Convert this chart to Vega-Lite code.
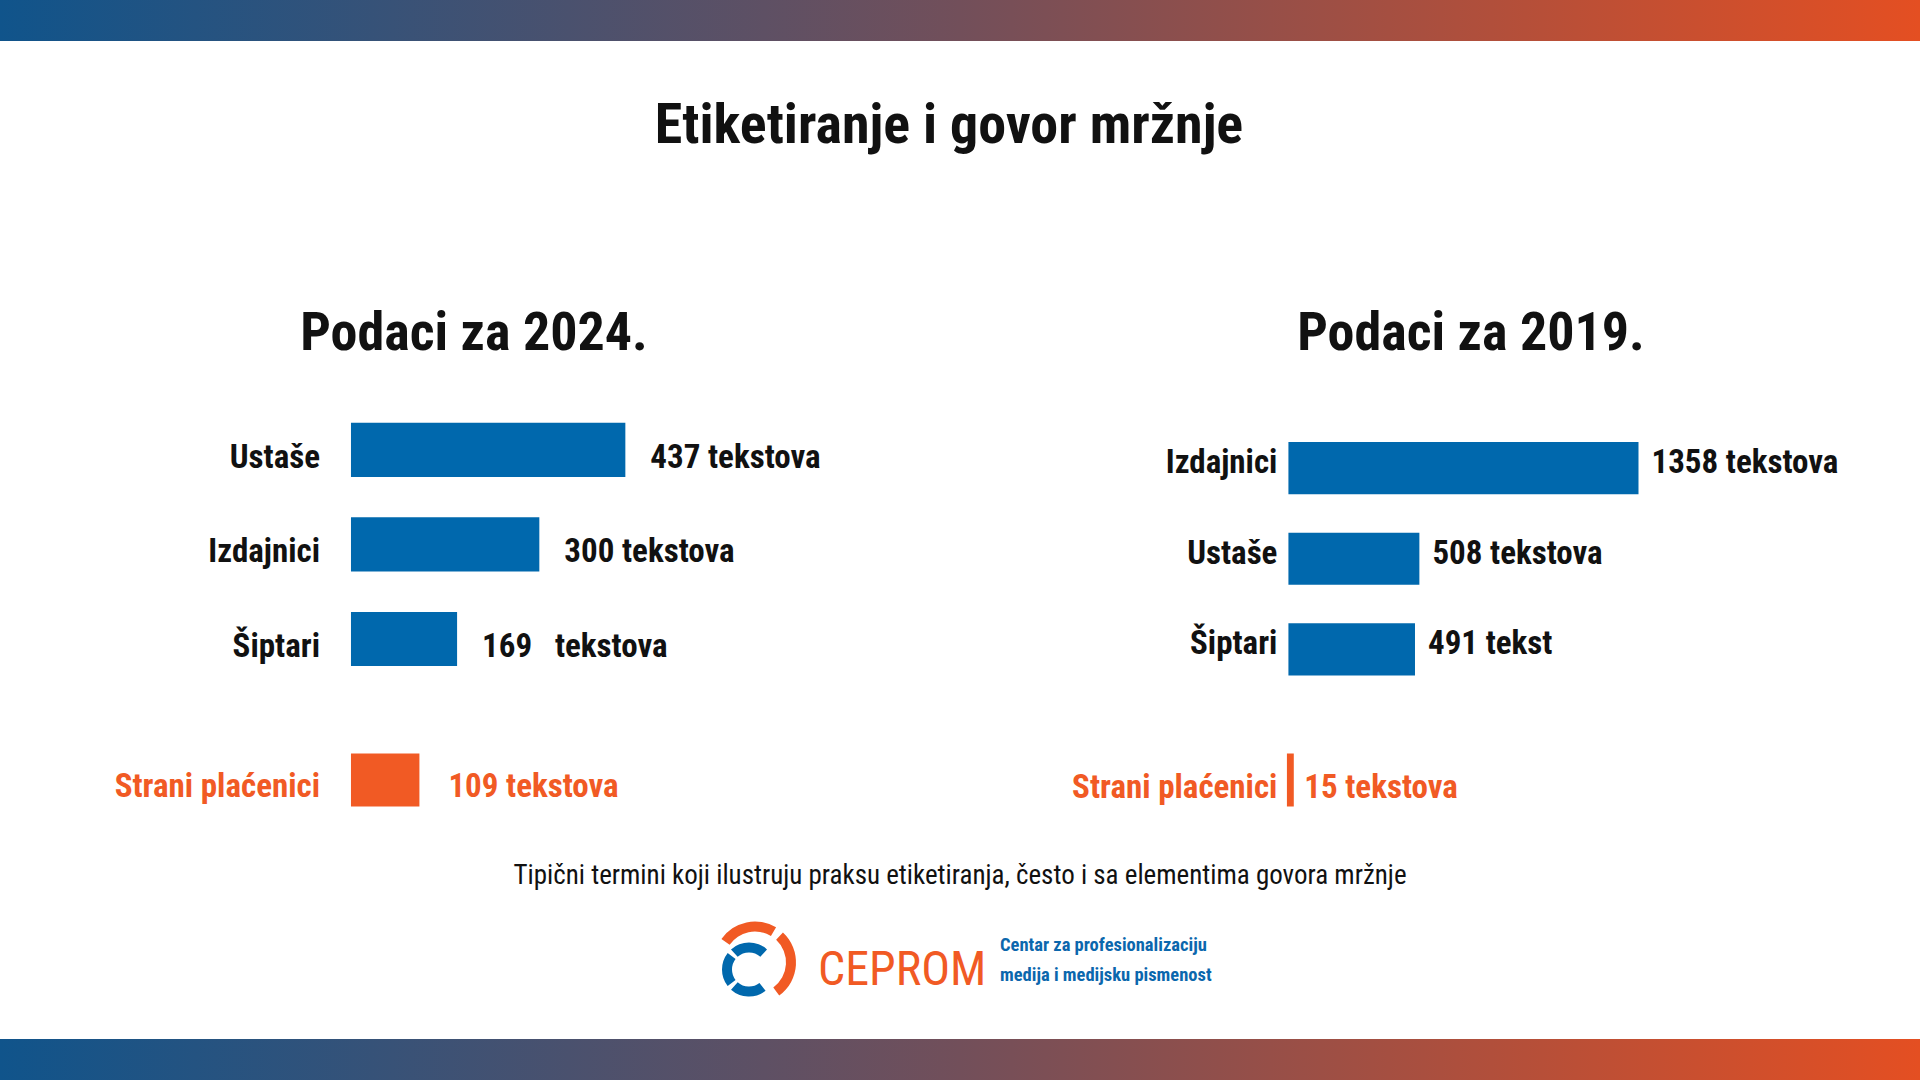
{
  "$schema": "https://vega.github.io/schema/vega-lite/v6.json",
  "padding": 0,
  "background": "white",
  "spacing": 0,
  "resolve": {"scale": {"x": "independent", "y": "independent"}},
  "config": {
    "view": {"stroke": null},
    "font": "Roboto Condensed, Liberation Sans Narrow, DejaVu Sans Condensed, sans-serif",
    "title": {"font": "Roboto Condensed, Liberation Sans Narrow, DejaVu Sans Condensed, sans-serif"}
  },
  "vconcat": [
    {
      "width": 1920,
      "height": 41,
      "data": {"values": [{"traka": "gore"}]},
      "mark": {
        "type": "rect",
        "fill": {"gradient": "linear", "x1": 0, "x2": 1, "y1": 0, "y2": 0,
          "stops": [{"offset": 0, "color": "#10548b"}, {"offset": 0.5, "color": "#724f5a"}, {"offset": 1, "color": "#e44f22"}]}
      },
      "encoding": {}
    },
    {
      "width": 1920,
      "height": 266,
      "data": {"values": [{"naslov": "Etiketiranje i govor mržnje"}]},
      "mark": {"type": "text", "fontSize": 56, "fontWeight": "bold", "color": "#111111", "baseline": "alphabetic", "align": "center", "dx": -11, "dy": -31},
      "encoding": {"text": {"field": "naslov", "type": "nominal"}}
    },
    {
      "hconcat": [
        {
          "width": 960,
          "height": 352,
          "title": {"text": "Podaci za 2024.", "fontSize": 54, "fontWeight": "bold", "color": "#111111", "anchor": "middle", "dx": -6, "offset": 39},
          "data": {"values": [
            {"kategorija": "Ustaše", "broj": 437, "oznaka": "437 tekstova"},
            {"kategorija": "Izdajnici", "broj": 300, "oznaka": "300 tekstova"},
            {"kategorija": "Šiptari", "broj": 169, "oznaka": "169\u00a0\u00a0\u00a0tekstova"}
          ]},
          "encoding": {
            "y": {"field": "kategorija", "type": "nominal", "sort": null, "axis": null,
              "scale": {"paddingInner": 0.4271, "paddingOuter": 0.574, "align": 0.209}}
          },
          "layer": [
            {
              "mark": {"type": "bar", "color": "#0068ad"},
              "encoding": {"x": {"field": "broj", "type": "quantitative", "axis": null, "scale": {"domain": [-559, 970], "nice": false, "zero": false}}}
            },
            {
              "mark": {"type": "text", "align": "right", "baseline": "alphabetic", "dx": -31, "dy": 18, "fontSize": 33, "fontWeight": "bold", "color": "#111111"},
              "encoding": {"x": {"datum": 0, "type": "quantitative"}, "text": {"field": "kategorija", "type": "nominal"}}
            },
            {
              "mark": {"type": "text", "align": "left", "baseline": "alphabetic", "dx": 25, "dy": 18, "fontSize": 33, "fontWeight": "bold", "color": "#111111"},
              "encoding": {"x": {"field": "broj", "type": "quantitative"}, "text": {"field": "oznaka", "type": "nominal"}}
            }
          ]
        },
        {
          "width": 960,
          "height": 352,
          "title": {"text": "Podaci za 2019.", "fontSize": 54, "fontWeight": "bold", "color": "#111111", "anchor": "middle", "dx": 31, "offset": 39},
          "data": {"values": [
            {"kategorija": "Izdajnici", "broj": 1358, "oznaka": "1358 tekstova"},
            {"kategorija": "Ustaše", "broj": 508, "oznaka": "508 tekstova"},
            {"kategorija": "Šiptari", "broj": 491, "oznaka": "491 tekst"}
          ]},
          "encoding": {
            "y": {"field": "kategorija", "type": "nominal", "sort": null, "axis": null,
              "scale": {"paddingInner": 0.4242, "paddingOuter": 0.6536, "align": 0.3544}}
          },
          "layer": [
            {
              "mark": {"type": "bar", "color": "#0068ad"},
              "encoding": {"x": {"field": "broj", "type": "quantitative", "axis": null, "scale": {"domain": [-1274, 2450], "nice": false, "zero": false}}}
            },
            {
              "mark": {"type": "text", "align": "right", "baseline": "alphabetic", "dx": -11, "dy": 5, "fontSize": 33, "fontWeight": "bold", "color": "#111111"},
              "encoding": {"x": {"datum": 0, "type": "quantitative"}, "text": {"field": "kategorija", "type": "nominal"}}
            },
            {
              "mark": {"type": "text", "align": "left", "baseline": "alphabetic", "dx": 13, "dy": 5, "fontSize": 33, "fontWeight": "bold", "color": "#111111"},
              "encoding": {"x": {"field": "broj", "type": "quantitative"}, "text": {"field": "oznaka", "type": "nominal"}}
            }
          ]
        }
      ],
      "spacing": 0,
      "resolve": {"scale": {"x": "independent", "y": "independent"}}
    },
    {
      "hconcat": [
        {
          "width": 960,
          "height": 56,
          "data": {"values": [
            {"kategorija": "Strani plaćenici", "broj": 109, "oznaka": "109 tekstova"}
          ]},
          "encoding": {
            "y": {"field": "kategorija", "type": "nominal", "axis": null, "scale": {"paddingInner": 0, "paddingOuter": 0.0283}}
          },
          "layer": [
            {
              "mark": {"type": "bar", "color": "#f15a24"},
              "encoding": {"x": {"field": "broj", "type": "quantitative", "axis": null, "scale": {"domain": [-559, 970], "nice": false, "zero": false}}}
            },
            {
              "mark": {"type": "text", "align": "right", "baseline": "alphabetic", "dx": -31, "dy": 17, "fontSize": 33, "fontWeight": "bold", "color": "#f15a24"},
              "encoding": {"x": {"datum": 0, "type": "quantitative"}, "text": {"field": "kategorija", "type": "nominal"}}
            },
            {
              "mark": {"type": "text", "align": "left", "baseline": "alphabetic", "dx": 29, "dy": 17, "fontSize": 33, "fontWeight": "bold", "color": "#f15a24"},
              "encoding": {"x": {"field": "broj", "type": "quantitative"}, "text": {"field": "oznaka", "type": "nominal"}}
            }
          ]
        },
        {
          "width": 960,
          "height": 56,
          "data": {"values": [
            {"kategorija": "Strani plaćenici", "broj": 15, "oznaka": "15 tekstova"}
          ]},
          "encoding": {
            "y": {"field": "kategorija", "type": "nominal", "axis": null, "scale": {"paddingInner": 0, "paddingOuter": 0.06}}
          },
          "layer": [
            {
              "mark": {"type": "bar", "color": "#f15a24", "stroke": "#f15a24", "strokeWidth": 3},
              "encoding": {"x": {"field": "broj", "type": "quantitative", "axis": null, "scale": {"domain": [-1274, 2450], "nice": false, "zero": false}}}
            },
            {
              "mark": {"type": "text", "align": "right", "baseline": "alphabetic", "dx": -11, "dy": 18, "fontSize": 33, "fontWeight": "bold", "color": "#f15a24"},
              "encoding": {"x": {"datum": 0, "type": "quantitative"}, "text": {"field": "kategorija", "type": "nominal"}}
            },
            {
              "mark": {"type": "text", "align": "left", "baseline": "alphabetic", "dx": 12, "dy": 18, "fontSize": 33, "fontWeight": "bold", "color": "#f15a24"},
              "encoding": {"x": {"field": "broj", "type": "quantitative"}, "text": {"field": "oznaka", "type": "nominal"}}
            }
          ]
        }
      ],
      "spacing": 0,
      "resolve": {"scale": {"x": "independent", "y": "independent"}}
    },
    {
      "width": 1920,
      "height": 231,
      "data": {"values": [{"izvor": "CEPROM"}]},
      "layer": [
        {
          "mark": {"type": "text", "align": "center", "baseline": "alphabetic", "dy": -40, "fontSize": 27, "color": "#111111"},
          "encoding": {"text": {"value": "Tipični termini koji ilustruju praksu etiketiranja, često i sa elementima govora mržnje"}}
        },
        {
          "mark": {"type": "arc", "theta": -0.96, "theta2": 0.54, "radius": 41, "radius2": 31, "xOffset": -205, "yOffset": 39, "color": "#f15a24"},
          "encoding": {}
        },
        {
          "mark": {"type": "arc", "theta": 0.75, "theta2": 2.51, "radius": 41, "radius2": 31, "xOffset": -205, "yOffset": 39, "color": "#f15a24"},
          "encoding": {}
        },
        {
          "mark": {"type": "arc", "theta": -0.73, "theta2": 0.73, "radius": 27, "radius2": 17, "xOffset": -211, "yOffset": 46, "color": "#0068ad"},
          "encoding": {}
        },
        {
          "mark": {"type": "arc", "theta": -2.23, "theta2": -0.91, "radius": 27, "radius2": 17, "xOffset": -211, "yOffset": 46, "color": "#0068ad"},
          "encoding": {}
        },
        {
          "mark": {"type": "arc", "theta": 2.48, "theta2": 3.87, "radius": 27, "radius2": 17, "xOffset": -211, "yOffset": 46, "color": "#0068ad"},
          "encoding": {}
        },
        {
          "mark": {"type": "text", "align": "left", "baseline": "alphabetic", "dx": -142, "dy": 61, "fontSize": 48, "color": "#f15a24"},
          "encoding": {"text": {"field": "izvor", "type": "nominal"}}
        },
        {
          "mark": {"type": "text", "align": "left", "baseline": "alphabetic", "dx": 40, "dy": 27, "fontSize": 18.5, "fontWeight": "bold", "color": "#0b67ad"},
          "encoding": {"text": {"value": "Centar za profesionalizaciju"}}
        },
        {
          "mark": {"type": "text", "align": "left", "baseline": "alphabetic", "dx": 40, "dy": 57, "fontSize": 18.5, "fontWeight": "bold", "color": "#0b67ad"},
          "encoding": {"text": {"value": "medija i medijsku pismenost"}}
        }
      ]
    },
    {
      "width": 1920,
      "height": 41,
      "data": {"values": [{"traka": "dole"}]},
      "mark": {
        "type": "rect",
        "fill": {"gradient": "linear", "x1": 0, "x2": 1, "y1": 0, "y2": 0,
          "stops": [{"offset": 0, "color": "#10548b"}, {"offset": 0.5, "color": "#724f5a"}, {"offset": 1, "color": "#e44f22"}]}
      },
      "encoding": {}
    }
  ]
}
